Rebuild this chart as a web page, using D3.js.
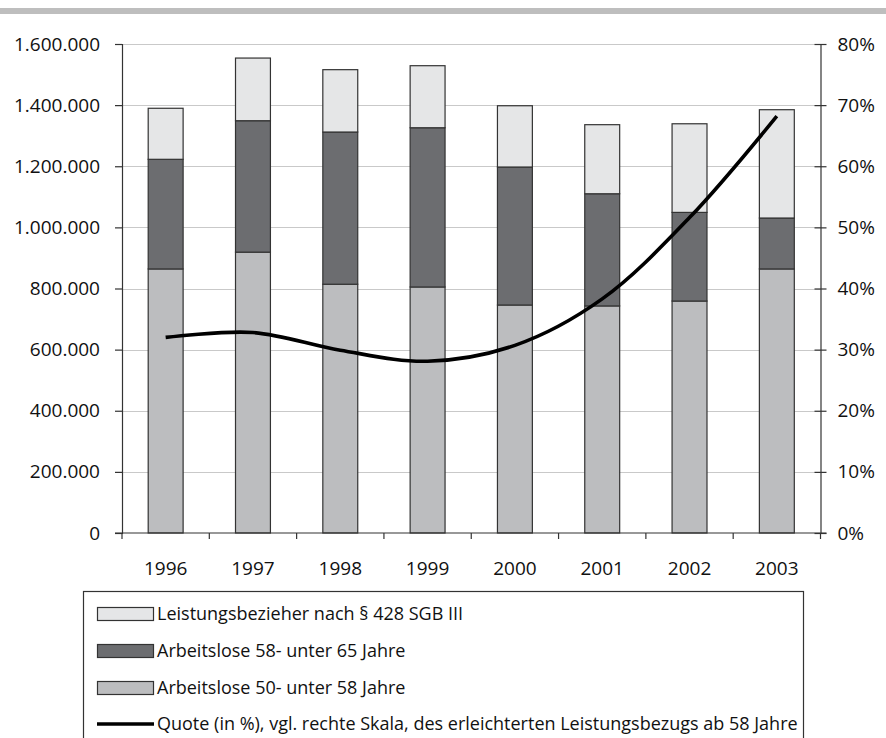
<!DOCTYPE html>
<html>
<head>
<meta charset="utf-8">
<script src="https://cdn.jsdelivr.net/npm/d3@7"></script>
<style>
  body { margin: 0; background: #fff; }
  svg { display: block; }
  text { font-family: "Open Sans", "DejaVu Sans", sans-serif; fill: #111; }
</style>
</head>
<body>
<svg id="chart" width="886" height="738"></svg>
<script>
// Jahre
const years = ["1996", "1997", "1998", "1999", "2000", "2001", "2002", "2003"];
// Arbeitslose 50- unter 58 Jahre
const alo50bis58 = [864000, 919000, 814000, 805000, 746000, 743000, 759000, 864000];
// Arbeitslose 58- unter 65 Jahre
const alo58bis65 = [358700, 430000, 498000, 521000, 451500, 367000, 290000, 166600];
// Leistungsbezieher nach § 428 SGB III
const bezieher428 = [167000, 205000, 204000, 203000, 200500, 226000, 290000, 354400];
// Quote des erleichterten Leistungsbezugs ab 58 Jahre (in %)
const quote = [32.0, 32.8, 29.9, 28.1, 30.7, 38.3, 51.6, 68.2];
// Achsenbeschriftungen
const leftTicks = [0, 200000, 400000, 600000, 800000, 1000000, 1200000, 1400000, 1600000];
const rightTicks = [0, 10, 20, 30, 40, 50, 60, 70, 80];
const legendLabels = [
  "Leistungsbezieher nach § 428 SGB III",
  "Arbeitslose 58- unter 65 Jahre",
  "Arbeitslose 50- unter 58 Jahre",
  "Quote (in %), vgl. rechte Skala, des erleichterten Leistungsbezugs ab 58 Jahre"
];

const colors = { alo50: "#bcbdbf", alo58: "#6c6d70", b428: "#e5e6e7" };

const svg = d3.select("#chart");
const plot = { left: 122, right: 820.5, top: 44, bottom: 533 };

// Grauer Balken am oberen Rand
svg.append("rect").attr("x", 0).attr("y", 8).attr("width", 886).attr("height", 6).attr("fill", "#bebebe");

const de = d3.formatLocale({ decimal: ",", thousands: ".", grouping: [3], currency: ["", " €"] });
const fmt = de.format(",");

const x = d3.scaleBand().domain(years).range([plot.left, plot.right]).paddingInner(0.6).paddingOuter(0.3);
const y = d3.scaleLinear().domain([0, 1600000]).range([plot.bottom, plot.top]);
const y2 = d3.scaleLinear().domain([0, 80]).range([plot.bottom, plot.top]);

// Gitterlinien
svg.append("g").selectAll("line").data(leftTicks.filter(d => d > 0)).join("line")
  .attr("x1", plot.left).attr("x2", plot.right)
  .attr("y1", d => Math.round(y(d)) + 0.5).attr("y2", d => Math.round(y(d)) + 0.5)
  .attr("stroke", "#c9c9c9").attr("stroke-width", 1.2);

// Gestapelte Säulen
const rows = years.map((yr, i) => ({ year: yr, alo50: alo50bis58[i], alo58: alo58bis65[i], b428: bezieher428[i] }));
const stack = d3.stack().keys(["alo50", "alo58", "b428"])(rows);
svg.append("g").selectAll("g").data(stack).join("g")
  .attr("fill", d => colors[d.key])
  .selectAll("rect").data(d => d).join("rect")
  .attr("x", d => x(d.data.year))
  .attr("width", x.bandwidth())
  .attr("y", d => y(d[1]))
  .attr("height", d => y(d[0]) - y(d[1]))
  .attr("stroke", "#333").attr("stroke-width", 1.2);

const fontSize = 19;

// Linke Achse
const leftAxis = svg.append("g").attr("transform", `translate(${plot.left},0)`)
  .call(d3.axisLeft(y).tickValues(leftTicks).tickFormat(fmt).tickSize(7).tickPadding(15));
leftAxis.select(".domain").attr("stroke", "#333").attr("stroke-width", 1.2);
leftAxis.selectAll(".tick line").attr("stroke", "#333").attr("stroke-width", 1.2);
leftAxis.selectAll("text").attr("font-size", fontSize).attr("fill", "#111")
  .attr("font-family", '"Open Sans", sans-serif');

// Rechte Achse
const rightAxis = svg.append("g").attr("transform", `translate(${plot.right},0)`)
  .call(d3.axisRight(y2).tickValues(rightTicks).tickFormat(d => d + "%").tickSizeInner(6).tickSizeOuter(0).tickPadding(11));
rightAxis.select(".domain").attr("stroke", "#333").attr("stroke-width", 1.2);
rightAxis.selectAll(".tick line").attr("x1", -6).attr("stroke", "#333").attr("stroke-width", 1.2);
rightAxis.selectAll("text").attr("font-size", fontSize).attr("fill", "#111")
  .attr("font-family", '"Open Sans", sans-serif');

// x-Achse mit Trennstrichen zwischen den Kategorien
const xAxisG = svg.append("g").attr("transform", `translate(0,${plot.bottom})`);
xAxisG.append("line").attr("x1", plot.left - 7).attr("x2", plot.right + 6)
  .attr("y1", 0).attr("y2", 0).attr("stroke", "#333").attr("stroke-width", 1.2);
const boundaries = years.map(d => x(d) - x.step() * x.paddingOuter());
boundaries.push(plot.right);
xAxisG.selectAll("line.tk").data(boundaries).join("line").attr("class", "tk")
  .attr("x1", d => d).attr("x2", d => d).attr("y1", 0).attr("y2", 6)
  .attr("stroke", "#333").attr("stroke-width", 1.2);
xAxisG.selectAll("text").data(years).join("text")
  .attr("x", d => x(d) + x.bandwidth() / 2).attr("y", 42)
  .attr("text-anchor", "middle").attr("font-size", fontSize).text(d => d);

// Quote-Linie (geglättet)
const line = d3.line()
  .x((d, i) => x(years[i]) + x.bandwidth() / 2)
  .y(d => y2(d))
  .curve(d3.curveCatmullRom.alpha(0.5));
svg.append("path").datum(quote).attr("d", line)
  .attr("fill", "none").attr("stroke", "#000").attr("stroke-width", 3.6)
  .attr("stroke-linejoin", "round");

// Legende
const lg = svg.append("g");
const frame = lg.append("rect").attr("x", 83.5).attr("y", 591.5).attr("height", 170)
  .attr("fill", "#fff").attr("stroke", "#333").attr("stroke-width", 1.2);
const legendFills = [colors.b428, colors.alo58, colors.alo50];
const rowY = [614, 651, 688, 724];
let maxRight = 0;
legendLabels.forEach((lab, i) => {
  if (i < 3) {
    lg.append("rect").attr("x", 97.5).attr("y", rowY[i] - 6.5).attr("width", 56).attr("height", 13)
      .attr("fill", legendFills[i]).attr("stroke", "#333").attr("stroke-width", 1.2);
  } else {
    lg.append("line").attr("x1", 97).attr("x2", 154).attr("y1", rowY[i]).attr("y2", rowY[i])
      .attr("stroke", "#000").attr("stroke-width", 3.6);
  }
  const t = lg.append("text").attr("x", 157).attr("y", rowY[i]).attr("dy", "0.35em")
    .attr("font-size", 18).text(lab);
  maxRight = Math.max(maxRight, 157 + t.node().getComputedTextLength());
});
frame.attr("width", Math.round(maxRight + 5) - 83);
</script>
</body>
</html>
